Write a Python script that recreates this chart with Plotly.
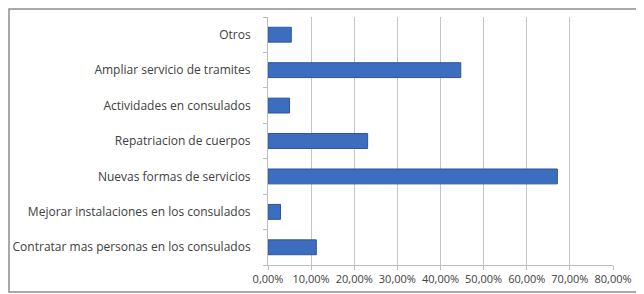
import plotly.graph_objects as go

categories = [
    "Contratar mas personas en los consulados",
    "Mejorar instalaciones en los consulados",
    "Nuevas formas de servicios",
    "Repatriacion de cuerpos",
    "Actividades en consulados",
    "Ampliar servicio de tramites",
    "Otros",
]
values = [0.112, 0.029, 0.671, 0.231, 0.050, 0.447, 0.054]
x_ticks = [0, 0.1, 0.2, 0.3, 0.4, 0.5, 0.6, 0.7, 0.8]

fig = go.Figure(
    go.Bar(
        x=values,
        y=categories,
        orientation="h",
        marker=dict(color="#3D6DBF", line=dict(color="#2C569C", width=1)),
    )
)

font_family = "Open Sans, Noto Sans, sans-serif"

W, H = 636, 286
L, R, T, B = 260, 31, 9, 29
PW, PH = W - L - R, H - T - B

fig.update_layout(
    width=W,
    height=H,
    margin=dict(l=L, r=R, t=T, b=B, autoexpand=False),
    paper_bgcolor="white",
    plot_bgcolor="white",
    bargap=0.58,
    showlegend=False,
    separators=",.",
    font=dict(family=font_family, size=11, color="#404040"),
    xaxis=dict(
        range=[0, 0.8],
        tickvals=x_ticks,
        tickformat=".2%",
        automargin=False,
        showgrid=True,
        gridcolor="#C4C4C4",
        gridwidth=1,
        zeroline=False,
        showline=True,
        linecolor="#BDBDBD",
        ticks="outside",
        ticklen=4,
        tickcolor="#BDBDBD",
        tickfont=dict(size=11, color="#404040"),
    ),
    yaxis=dict(
        categoryorder="array",
        categoryarray=categories,
        automargin=False,
        showgrid=False,
        zeroline=False,
        showline=True,
        linecolor="#BDBDBD",
        ticks="outside",
        tickson="boundaries",
        ticklen=4,
        tickcolor="#BDBDBD",
        ticklabelstandoff=14,
        tickfont=dict(size=12, color="#404040"),
    ),
    shapes=[
        dict(
            type="rect",
            xref="paper",
            yref="paper",
            x0=(1 - L) / PW,
            x1=(W - 1 - L) / PW,
            y0=-(H - 2 - T - PH) / PH,
            y1=(PH + T - 1) / PH,
            line=dict(color="#8C8C8C", width=1.5),
            fillcolor="rgba(0,0,0,0)",
            layer="below",
        )
    ],
)

fig.write_html("out.html")
